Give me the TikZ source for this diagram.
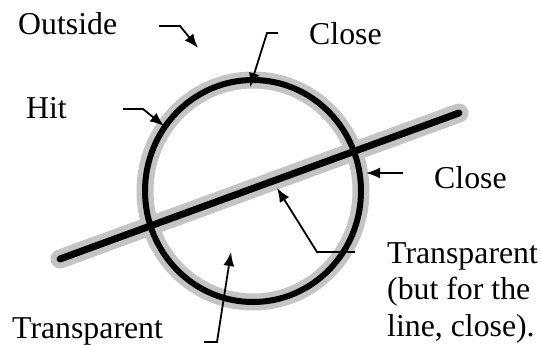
\documentclass[tikz,border=0pt]{standalone}
\usepackage{fontspec}
\setmainfont{Liberation Serif}
\usetikzlibrary{arrows.meta}
\definecolor{halo}{RGB}{196,196,196}
\begin{document}
\begin{tikzpicture}[x=1pt,y=-1pt,
  lbl/.style={anchor=base west,inner sep=0pt,font=\fontsize{31.8pt}{36.5pt}\selectfont},
  pointer/.style={line width=1.8pt,-{Latex[length=14pt,width=11pt]}},
  ringhalo/.style={line width=17pt,draw=halo},
  ringline/.style={line width=6pt,draw=black},
  rodhalo/.style={line width=19pt,draw=halo,line cap=round},
  rodline/.style={line width=7pt,draw=black,line cap=round}]
\useasboundingbox (0,0) rectangle (541,345);
% geometry
\coordinate (c) at (253,191);
\coordinate (r1) at (60,259);
\coordinate (r2) at (459,113);
% shapes
\draw[ringhalo] (c) ellipse [x radius=108pt, y radius=111pt];
\draw[rodhalo] (r1) -- (r2);
\draw[rodline] (r1) -- (r2);
\draw[ringline] (c) ellipse [x radius=108pt, y radius=111pt];
% labels
\node[lbl] (outside) at (18,35) {Outside};
\node[lbl] (hit) at (26,118) {Hit};
\node[lbl] (closetop) at (309,45) {Close};
\node[lbl] (closeright) at (434,188) {Close};
\node[lbl] (transl) at (12,338) {Transparent};
\node[lbl] (transr1) at (387,263) {Transparent};
\node[lbl] (transr2) at (387,299.5) {(but for the};
\node[lbl] (transr3) at (387,336) {line, close).};
% pointer coordinates
\coordinate (oA) at (159,26); \coordinate (oB) at (180,26); \coordinate (oT) at (198,48);
\coordinate (hA) at (123,109); \coordinate (hB) at (143,109); \coordinate (hT) at (164,126);
\coordinate (cA) at (278,33); \coordinate (cB) at (267,33); \coordinate (cT) at (250,87);
\coordinate (dA) at (403,173); \coordinate (dT) at (366,173);
\coordinate (tA) at (355,252); \coordinate (tB) at (317,252); \coordinate (tT) at (277,188);
\coordinate (bA) at (204,342); \coordinate (bB) at (217,342); \coordinate (bT) at (231,252);
% pointers
\draw[pointer] (oA) -- (oB) -- (oT);
\draw[pointer] (hA) -- (hB) -- (hT);
\draw[pointer] (cA) -- (cB) -- (cT);
\draw[pointer] (dA) -- (dT);
\draw[pointer] (tA) -- (tB) -- (tT);
\draw[pointer] (bA) -- (bB) -- (bT);
\end{tikzpicture}
\end{document}
